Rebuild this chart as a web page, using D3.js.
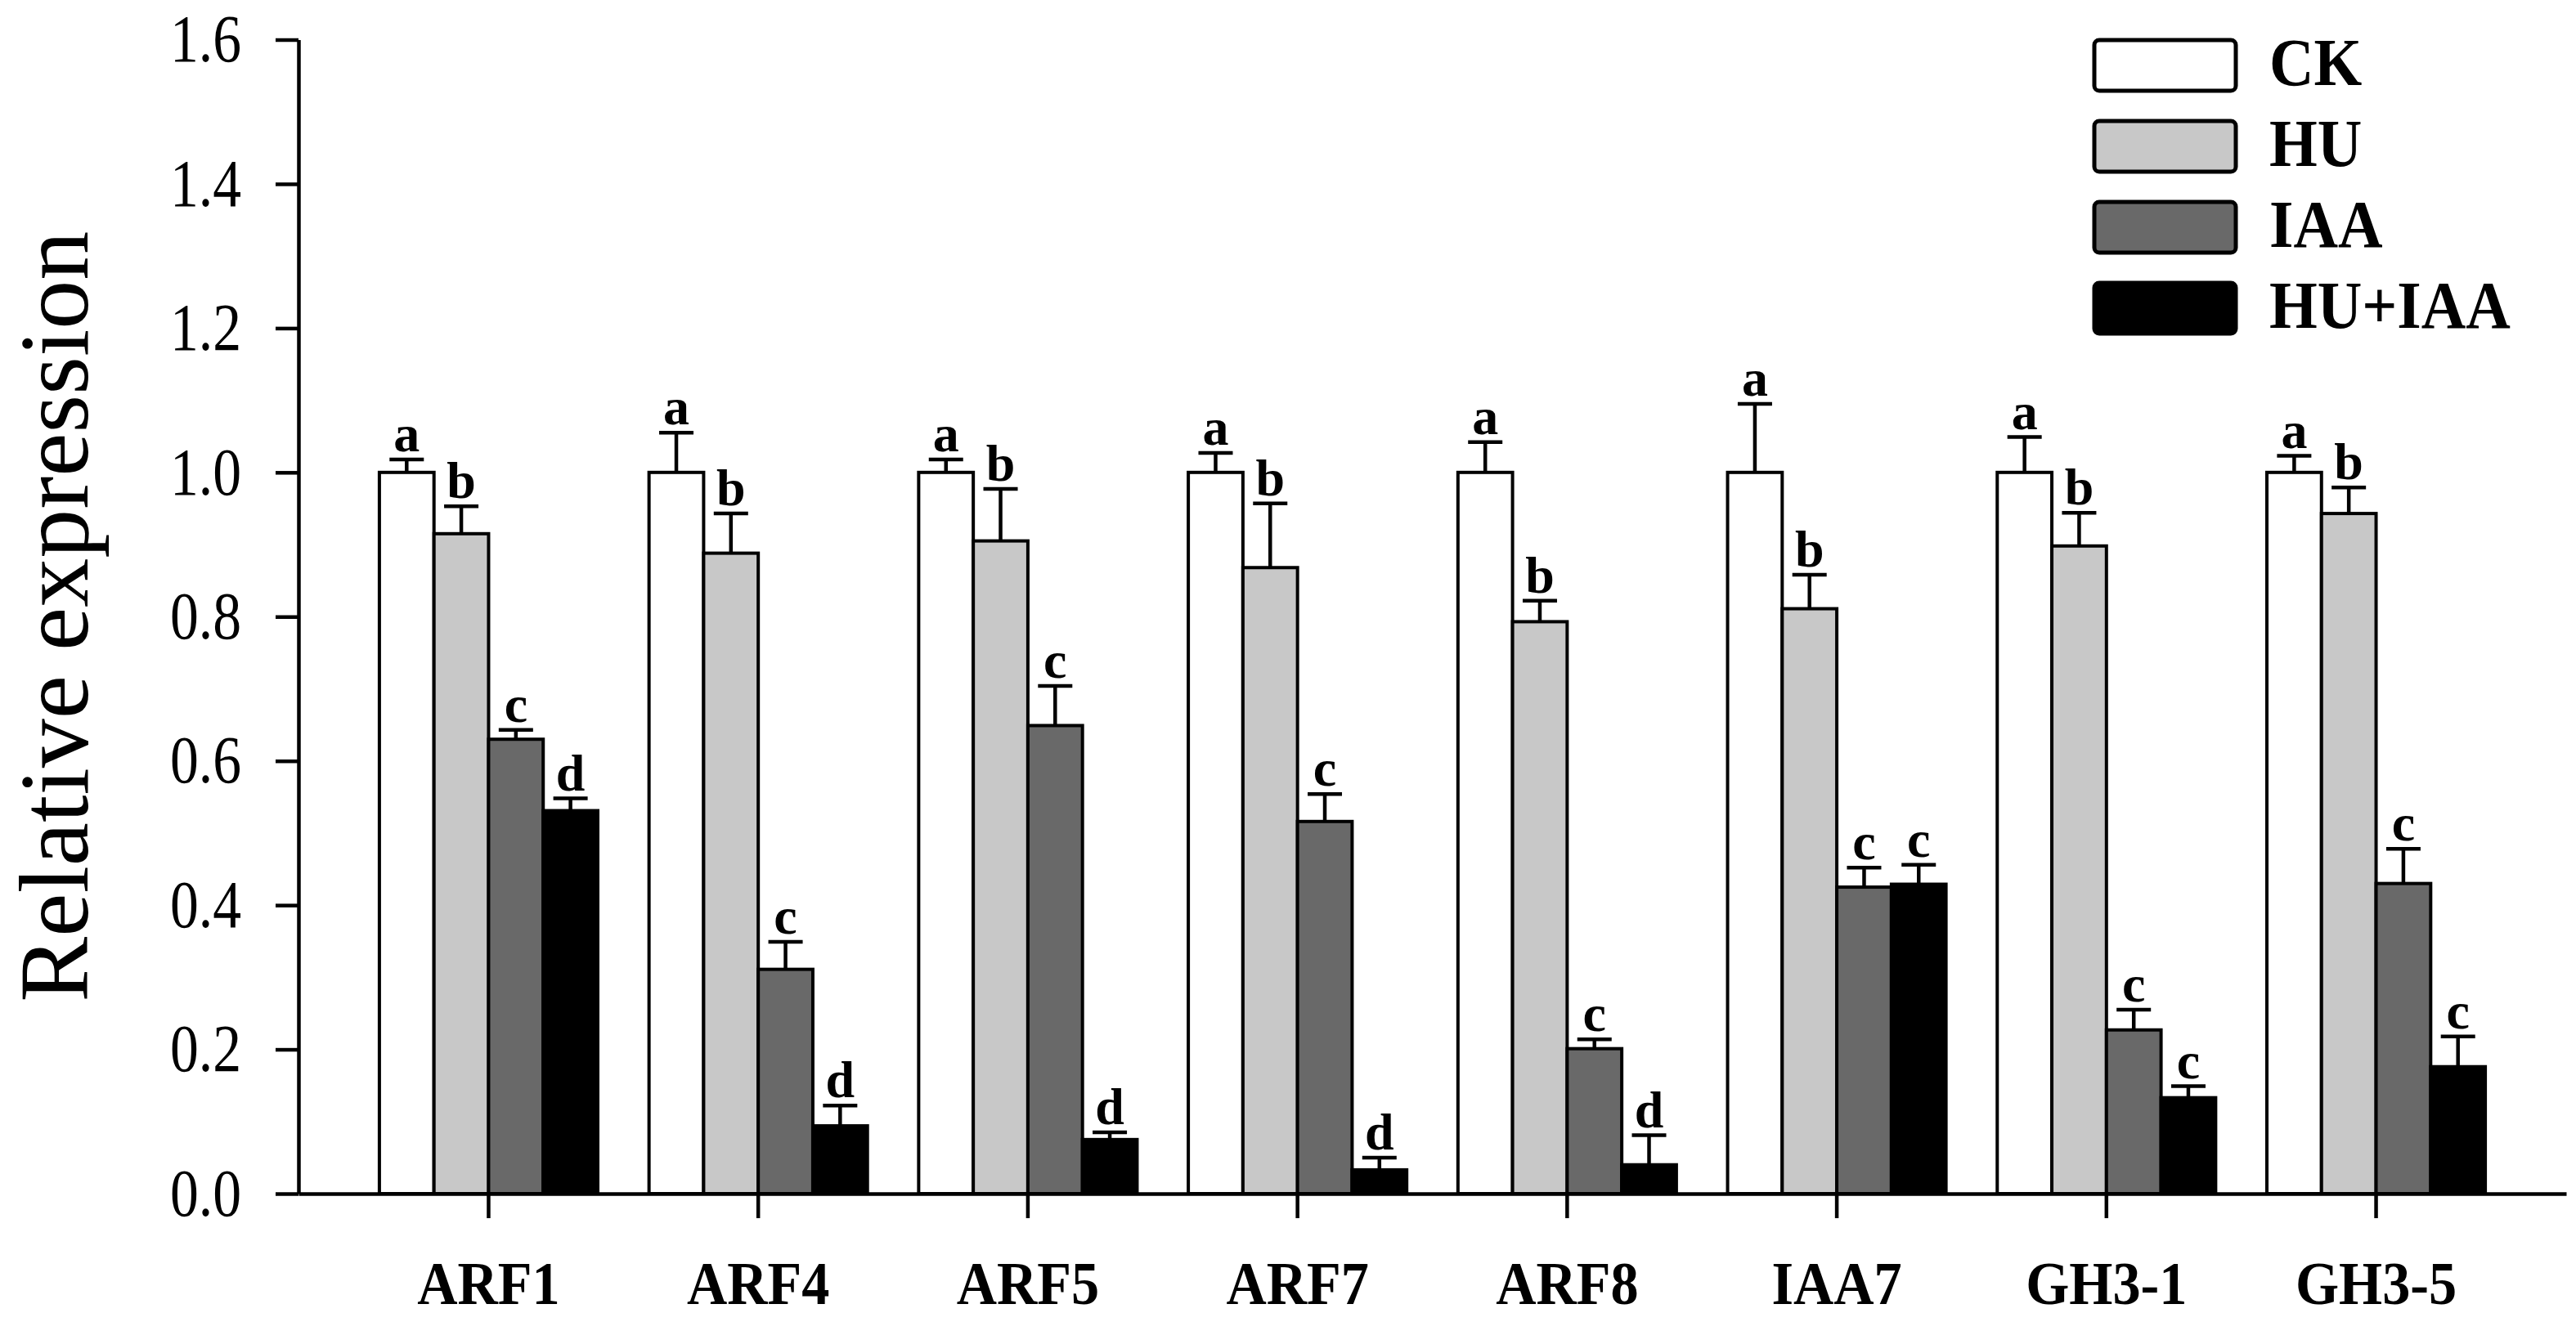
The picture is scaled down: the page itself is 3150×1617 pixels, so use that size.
<!DOCTYPE html>
<html>
<head>
<meta charset="utf-8">
<script src="https://cdn.jsdelivr.net/npm/d3@7"></script>
<style>
  body { margin: 0; background: #fff; }
  svg { display: block; }
</style>
</head>
<body>
<svg width="3150" height="1617"></svg>
<script>
const genes = ["ARF1", "ARF4", "ARF5", "ARF7", "ARF8", "IAA7", "GH3-1", "GH3-5"];
const treatments = ["CK", "HU", "IAA", "HU+IAA"];

const ck       = [1.000, 1.000, 1.000, 1.000, 1.000, 1.000, 1.000, 1.000];
const ckErr    = [0.018, 0.055, 0.018, 0.027, 0.042, 0.095, 0.049, 0.023];
const hu       = [0.915, 0.888, 0.905, 0.868, 0.793, 0.811, 0.898, 0.943];
const huErr    = [0.038, 0.055, 0.072, 0.089, 0.029, 0.047, 0.046, 0.036];
const iaa      = [0.630, 0.311, 0.649, 0.516, 0.201, 0.425, 0.227, 0.430];
const iaaErr   = [0.013, 0.038, 0.055, 0.038, 0.013, 0.027, 0.028, 0.048];
const huIaa    = [0.531, 0.094, 0.075, 0.033, 0.040, 0.429, 0.133, 0.176];
const huIaaErr = [0.017, 0.028, 0.010, 0.017, 0.041, 0.027, 0.016, 0.042];

const ckLetters    = ["a", "a", "a", "a", "a", "a", "a", "a"];
const huLetters    = ["b", "b", "b", "b", "b", "b", "b", "b"];
const iaaLetters   = ["c", "c", "c", "c", "c", "c", "c", "c"];
const huIaaLetters = ["d", "d", "d", "d", "d", "c", "c", "c"];

const yTicks = [0, 0.2, 0.4, 0.6, 0.8, 1.0, 1.2, 1.4, 1.6];

const series = {
  "CK":     { values: ck,    errs: ckErr,    letters: ckLetters },
  "HU":     { values: hu,    errs: huErr,    letters: huLetters },
  "IAA":    { values: iaa,   errs: iaaErr,   letters: iaaLetters },
  "HU+IAA": { values: huIaa, errs: huIaaErr, letters: huIaaLetters }
};

const svg = d3.select("svg");
const font = "'Liberation Serif', 'Times New Roman', serif";
const lw = 4.5;

const x0 = d3.scaleBand().domain(genes).range([365, 3138]).paddingInner(0.19).paddingOuter(0.3);
const x1 = d3.scaleBand().domain(treatments).range([0, x0.bandwidth()]);
const y = d3.scaleLinear().domain([0, 1.6]).range([1460, 48.5]);

const color = d3.scaleOrdinal().domain(treatments).range(["#ffffff", "#c8c8c8", "#696969", "#000000"]);

// squeeze text horizontally (the source figure is a bit narrow)
function squeeze(sel, sx) {
  sel.each(function() {
    const t = d3.select(this);
    const tx = +t.attr("x") || 0;
    const ty = +t.attr("y") || 0;
    t.attr("x", 0).attr("y", 0).attr("transform", `translate(${tx},${ty}) scale(${sx},1)`);
  });
}

// Bars
const rows = [];
genes.forEach((g, i) => {
  treatments.forEach(k => {
    rows.push({ gene: g, key: k, value: series[k].values[i], err: series[k].errs[i], letter: series[k].letters[i] });
  });
});

const bars = svg.append("g");

bars.selectAll("rect")
  .data(rows)
  .enter()
  .append("rect")
  .attr("x", d => x0(d.gene) + x1(d.key))
  .attr("y", d => y(d.value))
  .attr("width", x1.bandwidth())
  .attr("height", d => y(0) - y(d.value))
  .attr("fill", d => color(d.key))
  .attr("stroke", "#000")
  .attr("stroke-width", 4);

// Error bars
const cx = d => x0(d.gene) + x1(d.key) + x1.bandwidth() / 2;

bars.selectAll(".err")
  .data(rows)
  .enter()
  .append("line")
  .attr("class", "err")
  .attr("x1", cx).attr("x2", cx)
  .attr("y1", d => y(d.value))
  .attr("y2", d => y(d.value + d.err))
  .attr("stroke", "#000")
  .attr("stroke-width", lw);

bars.selectAll(".cap")
  .data(rows)
  .enter()
  .append("line")
  .attr("class", "cap")
  .attr("x1", d => cx(d) - 21).attr("x2", d => cx(d) + 21)
  .attr("y1", d => y(d.value + d.err))
  .attr("y2", d => y(d.value + d.err))
  .attr("stroke", "#000")
  .attr("stroke-width", lw);

// Significance letters
bars.selectAll(".sig")
  .data(rows)
  .enter()
  .append("text")
  .attr("class", "sig")
  .attr("x", cx)
  .attr("y", d => y(d.value + d.err) - 10)
  .attr("text-anchor", "middle")
  .style("font-family", font)
  .style("font-weight", "bold")
  .style("font-size", "64px")
  .text(d => d.letter);

// Y Axis
const yAxis = svg.append("g")
  .attr("transform", "translate(365,0)")
  .call(d3.axisLeft(y).tickValues(yTicks).tickFormat(d3.format(".1f")).tickSize(28).tickPadding(42).tickSizeOuter(0));

yAxis.selectAll("path, line").attr("stroke", "#000").attr("stroke-width", lw);
yAxis.selectAll("text")
  .style("font-family", font)
  .style("font-size", "82px")
  .attr("fill", "#000");
squeeze(yAxis.selectAll("text"), 0.85);

// X Axis
const xAxis = svg.append("g")
  .attr("transform", `translate(0,${y(0)})`)
  .call(d3.axisBottom(x0).tickSize(30).tickSizeOuter(0));

xAxis.selectAll("path, line").attr("stroke", "#000").attr("stroke-width", lw);
xAxis.selectAll("text")
  .attr("y", 135)
  .attr("dy", null)
  .style("font-family", font)
  .style("font-weight", "bold")
  .style("font-size", "75px")
  .attr("fill", "#000");
squeeze(xAxis.selectAll("text"), 0.91);

// Y title
svg.append("text")
  .attr("transform", `translate(107,${(y(0) + y(1.6)) / 2}) rotate(-90)`)
  .attr("text-anchor", "middle")
  .style("font-family", font)
  .style("font-size", "120px")
  .text("Relative expression");

// Legend
const legend = svg.append("g")
  .attr("transform", "translate(2561,49)");

legend.selectAll(".legend-item")
  .data(treatments)
  .enter()
  .append("g")
  .attr("class", "legend-item")
  .attr("transform", (d, i) => `translate(0,${i * 99})`)
  .each(function(d) {
    d3.select(this)
      .append("rect")
      .attr("width", 173)
      .attr("height", 62)
      .attr("rx", 6)
      .attr("fill", color(d))
      .attr("stroke", "#000")
      .attr("stroke-width", 5);
    const t = d3.select(this)
      .append("text")
      .attr("x", 214)
      .attr("y", 55)
      .style("font-family", font)
      .style("font-weight", "bold")
      .style("font-size", "83px")
      .text(d);
    squeeze(t, 0.91);
  });
</script>
</body>
</html>
